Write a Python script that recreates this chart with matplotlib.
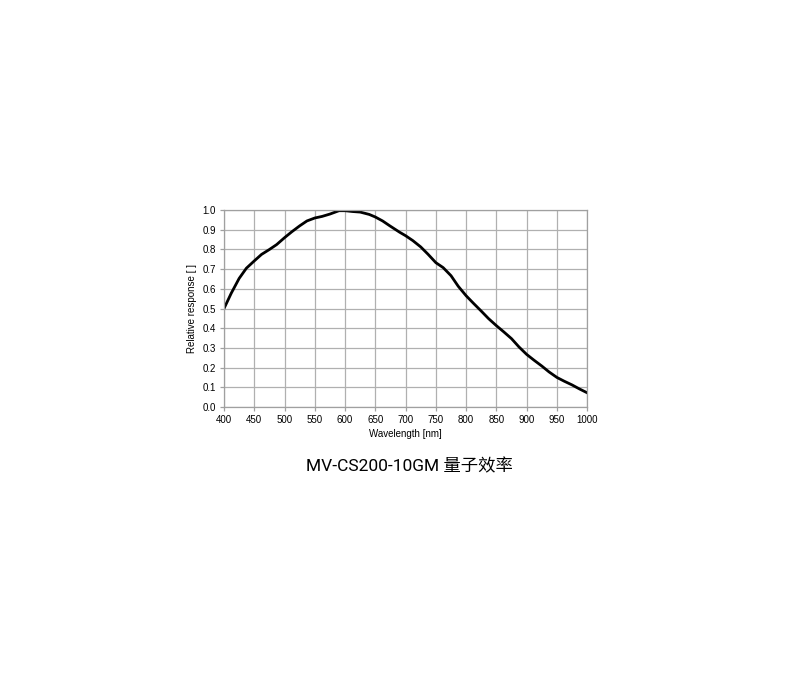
import matplotlib
matplotlib.use("Agg")
import matplotlib.pyplot as plt

# values
wavelength = [400, 412, 425, 437, 450, 462, 475, 487, 500, 512, 525, 537, 550, 562, 575,
              590, 600, 612, 625, 640, 650, 662, 674, 690, 700, 712, 725, 737, 750, 762,
              775, 787, 800, 812, 825, 837, 850, 862, 875, 887, 900, 912, 925, 937, 950,
              962, 975, 987, 1000]
response = [0.50, 0.578, 0.653, 0.705, 0.742, 0.775, 0.80, 0.825, 0.86, 0.89, 0.92, 0.945, 0.96, 0.968, 0.98,
            0.997, 0.997, 0.993, 0.99, 0.978, 0.965, 0.945, 0.92, 0.888, 0.87, 0.845, 0.813, 0.776, 0.733, 0.708,
            0.667, 0.613, 0.565, 0.527, 0.487, 0.449, 0.413, 0.382, 0.347, 0.306, 0.267, 0.238, 0.208, 0.178, 0.15,
            0.131, 0.112, 0.092, 0.072]

x_ticks = list(range(400, 1001, 50))
y_ticks = [i / 10 for i in range(11)]
caption = "MV-CS200-10GM 量子效率"

fig = plt.figure(figsize=(8, 6.8), dpi=100)
ax = fig.add_axes([0.28, 0.4015, 0.454, 0.2895])

ax.plot(wavelength, response, color="black", linewidth=2.0)

ax.set_xlim(400, 1000)
ax.set_ylim(0, 1.0)
ax.set_xticks(x_ticks)
ax.set_yticks(y_ticks)
ax.set_yticklabels([f"{v:.1f}" for v in y_ticks])
ax.grid(True, color="#b0b0b0", linewidth=0.9)
ax.set_axisbelow(True)
for s in ax.spines.values():
    s.set_color("#a0a0a0")
    s.set_linewidth(0.9)
ax.tick_params(length=3, width=0.9, color="#a0a0a0", labelsize=7, pad=3)
for lbl in ax.get_xticklabels() + ax.get_yticklabels():
    lbl.set_family("Liberation Sans")

ax.set_xlabel("Wavelength [nm]", fontsize=7, family="Liberation Sans", labelpad=3)
ax.set_ylabel("Relative response [ ]", fontsize=7, family="Liberation Sans", labelpad=4)

fig.text(0.512, 0.315, caption, ha="center", va="center", fontsize=12.5,
         family=["Roboto", "Noto Sans CJK SC"])

fig.savefig("out.png", dpi=100)
